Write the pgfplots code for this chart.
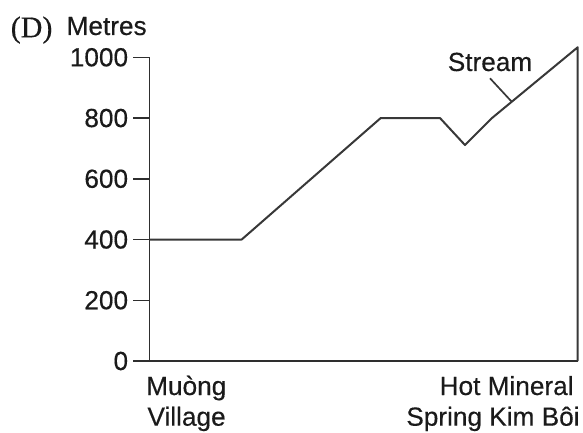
\documentclass[border=0pt]{standalone}
\usepackage{pgfplots}
\pgfplotsset{compat=1.18}
\usepackage{fontspec}
\setmainfont{Liberation Sans}[FakeBold=0.3]
\newfontfamily\sansbold{Liberation Sans}[FakeBold=0.35]
\newfontfamily\seriffont{Liberation Serif}[FakeBold=0.3]
\definecolor{ink}{HTML}{1A1A1A}
\definecolor{axisc}{HTML}{2E2E2E}
\definecolor{profile}{HTML}{383838}
\newcommand{\lbl}{\sansbold\fontsize{26.2bp}{30bp}\selectfont}
\begin{document}
\begin{tikzpicture}
\useasboundingbox (-149.3bp,-72bp) rectangle (433.7bp,361bp);
\begin{axis}[
  at={(0,0)}, anchor=south west,
  scale only axis, width=428.4bp, height=303.7bp,
  xmin=0, xmax=428.4, ymin=0, ymax=1000,
  axis x line=bottom, axis y line=left,
  axis line style={-, line width=1.5bp, color=axisc},
  xtick=\empty, ytick={0,200,400,600,800,1000},
  tick align=outside, major tick length=16bp,
  tick style={line width=1.5bp, color=axisc},
  yticklabel style={font=\lbl, text=ink, inner sep=0pt, xshift=-5bp},
  /pgf/number format/assume math mode=true,
  /pgf/number format/1000 sep={},
  clip=false,
]
\addplot[color=profile, line width=2bp, line join=round, mark=none] coordinates {
  (0,400) (92.4,400) (231.4,800) (290.7,800) (315.7,711) (342.7,800) (428.4,1033) (428.4,0)
};
\addplot[color=profile, line width=1.7bp, mark=none] coordinates {
  (340.7,930.9) (362.4,853.8)
};
\end{axis}
\node[font=\seriffont\fontsize{30bp}{34bp}\selectfont, text=ink, anchor=base west, inner sep=0pt] at (-138.7bp,323.7bp) {(D)};
\node[font=\lbl, text=ink, anchor=base west, inner sep=0pt] at (-82.9bp,326bp) {Metres};
\node[font=\lbl, text=ink, anchor=base, inner sep=0pt] at (340.7bp,290bp) {Stream};
\node[font=\lbl, text=ink, anchor=base west, inner sep=0pt] at (-3.3bp,-34bp) {Muòng};
\node[font=\lbl, text=ink, anchor=base west, inner sep=0pt] at (-2bp,-64.7bp) {Village};
\node[font=\lbl, text=ink, anchor=base east, inner sep=0pt] at (424.5bp,-34bp) {Hot Mineral};
\node[font=\lbl, text=ink, anchor=base east, inner sep=0pt] at (430.5bp,-64.7bp) {Spring Kim Bôi};
\end{tikzpicture}
\end{document}
